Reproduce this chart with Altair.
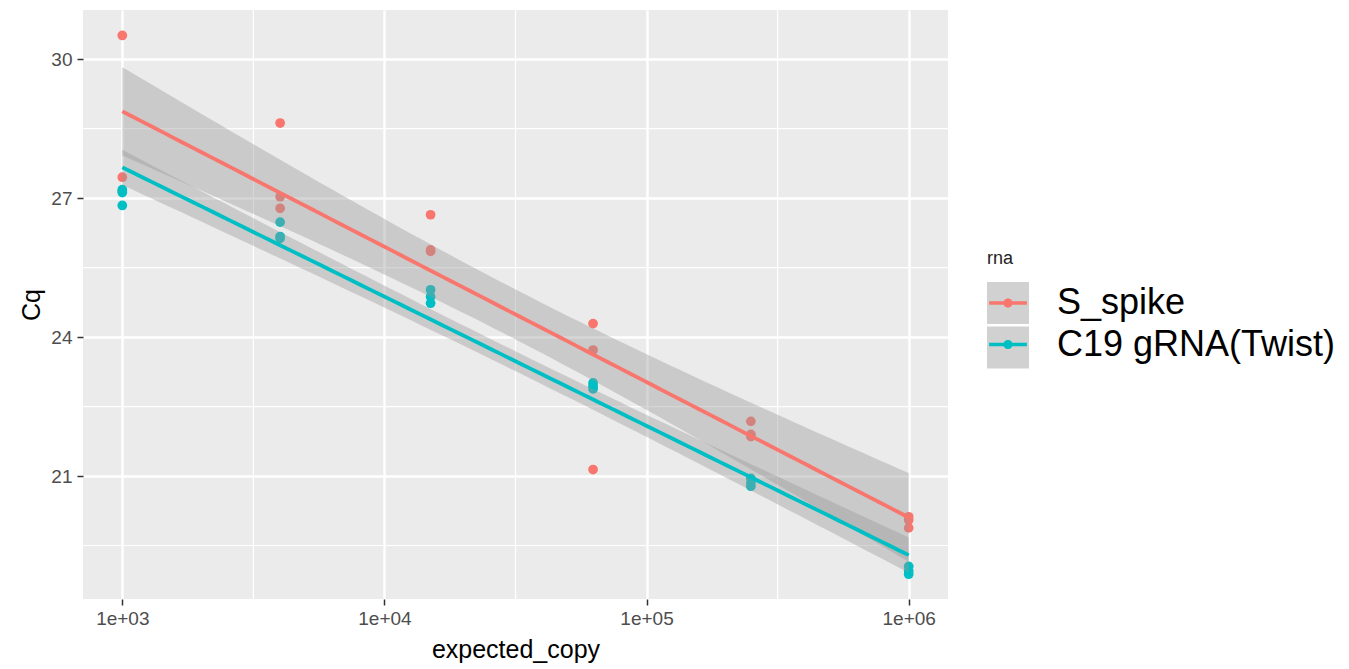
import numpy as np
import pandas as pd
import altair as alt

# ---------------- data ----------------
rna_levels = ["S_spike", "C19 gRNA(Twist)"]
rna_colors = ["#F8766D", "#00BFC4"]
expected_copy = [1000, 4000, 15000, 62500, 250000, 1000000]

spike_rep1 = [30.51, 28.62, 26.64, 24.29, 22.18, 20.12]
spike_rep2 = [27.45, 27.03, 25.88, 23.72, 21.90, 20.05]
spike_rep3 = [27.15, 26.78, 25.85, 21.14, 21.85, 19.88]

twist_rep1 = [27.18, 26.48, 25.02, 23.01, 20.95, 19.05]
twist_rep2 = [27.12, 26.17, 24.87, 22.94, 20.85, 18.95]
twist_rep3 = [26.84, 26.13, 24.73, 22.88, 20.78, 18.88]

x_ticks = [1e3, 1e4, 1e5, 1e6]
x_minor = [10 ** 3.5, 10 ** 4.5, 10 ** 5.5]
y_ticks = [21, 24, 27, 30]
y_minor = [19.5, 22.5, 25.5, 28.5]

# ---------------- tables ----------------
rows = []
for name, reps in [(rna_levels[0], [spike_rep1, spike_rep2, spike_rep3]),
                   (rna_levels[1], [twist_rep1, twist_rep2, twist_rep3])]:
    for rep in reps:
        for xv, yv in zip(expected_copy, rep):
            rows.append({"expected_copy": xv, "Cq": yv, "rna": name})
points = pd.DataFrame(rows)

# linear model Cq ~ log10(expected_copy) per rna, with 95% confidence band (like geom_smooth(method="lm"))
T975_DF16 = 2.1199
fit_rows = []
for name in rna_levels:
    sub = points[points.rna == name]
    lx = np.log10(sub.expected_copy.values.astype(float))
    yy = sub.Cq.values
    n = len(lx)
    slope, intercept = np.polyfit(lx, yy, 1)
    resid = yy - (intercept + slope * lx)
    s = np.sqrt(np.sum(resid ** 2) / (n - 2))
    sxx = np.sum((lx - lx.mean()) ** 2)
    grid = np.linspace(lx.min(), lx.max(), 80)
    pred = intercept + slope * grid
    se = s * np.sqrt(1.0 / n + (grid - lx.mean()) ** 2 / sxx)
    for g, p, e in zip(grid, pred, se):
        fit_rows.append({"expected_copy": 10 ** g, "fit": p,
                         "lo": p - T975_DF16 * e, "hi": p + T975_DF16 * e,
                         "rna": name, "band": name + " band"})
fits = pd.DataFrame(fit_rows)
band_levels = [n + " band" for n in rna_levels]

# ---------------- scales / axes ----------------
x_scale = alt.Scale(type="log", domain=[10 ** 2.85, 10 ** 6.15], nice=False)
y_scale = alt.Scale(domain=[18.345, 31.06], nice=False, zero=False)

axis_common = dict(grid=True, gridColor="#FFFFFF", gridWidth=2.4, domain=False,
                   tickColor="#333333", tickSize=6, tickWidth=1.5,
                   labelColor="#4D4D4D", labelFontSize=19, labelFont="Liberation Sans",
                   titleFontSize=25, titleFont="Liberation Sans", titleColor="#000000",
                   titleFontWeight="normal")
x_axis = alt.Axis(values=x_ticks, labelExpr="'1e+0' + round(log(datum.value)/LN10)",
                  labelPadding=4, titlePadding=9, **axis_common)
y_axis = alt.Axis(values=y_ticks, labelPadding=5, titlePadding=6, **axis_common)

def X(field):
    return alt.X(field, type="quantitative", scale=x_scale, axis=x_axis, title="expected_copy")

def Y(field):
    return alt.Y(field, type="quantitative", scale=y_scale, axis=y_axis, title="Cq")

color_scale = alt.Scale(domain=rna_levels, range=rna_colors)
key_path = ("M-0.9,-0.085L0.9,-0.085L0.9,0.085L-0.9,0.085Z "
            "M-0.22,0A0.22,0.22 0 1,1 0.22,0A0.22,0.22 0 1,1 -0.22,0Z")
legend_common = dict(orient="none", legendX=904, legendY=240, padding=0,
                     symbolSize=1764, symbolStrokeWidth=0, rowPadding=2.5,
                     labelFontSize=36, labelFont="Liberation Sans", labelColor="#000000",
                     labelOffset=28, labelLimit=600,
                     title="rna", titleFontSize=18, titleFont="Liberation Sans",
                     titleFontWeight="normal", titleColor="#222222", titlePadding=14)
color_legend = alt.Legend(symbolType=key_path, symbolOpacity=1, zindex=2, **legend_common)
band_legend = alt.Legend(symbolType="square", symbolOpacity=0.45, zindex=1,
                         labelExpr="''", titleOpacity=0, **legend_common)

color_enc = alt.Color("rna:N", scale=color_scale, legend=color_legend, sort=rna_levels)

# ---------------- layers ----------------
minor_x = alt.Chart(pd.DataFrame({"v": x_minor})).mark_rule(
    color="#FFFFFF", strokeWidth=1.2).encode(x=X("v"))
minor_y = alt.Chart(pd.DataFrame({"v": y_minor})).mark_rule(
    color="#FFFFFF", strokeWidth=1.2).encode(y=Y("v"))

pts = alt.Chart(points).mark_circle(size=95, opacity=1).encode(
    x=X("expected_copy"), y=Y("Cq"), color=color_enc)

ribbon = alt.Chart(fits).mark_area(opacity=0.4).encode(
    x=X("expected_copy"), y=Y("lo"), y2="hi",
    fill=alt.Fill("band:N", scale=alt.Scale(domain=band_levels, range=["#999999", "#999999"]),
                  legend=band_legend))

lines = alt.Chart(fits).mark_line(strokeWidth=3.8).encode(
    x=X("expected_copy"), y=Y("fit"), color=color_enc)

chart = alt.layer(minor_x, minor_y, pts, ribbon, lines).properties(
    width=865, height=589,
    padding={"left": 75, "top": 2, "right": 390, "bottom": 69},
    autosize=alt.AutoSizeParams(type="none"),
).configure(
    font="Liberation Sans",
    view=alt.ViewConfig(fill="#EBEBEB", stroke="transparent", strokeWidth=0),
)

chart.save("out.html", embed_options={"renderer": "svg", "actions": False})
